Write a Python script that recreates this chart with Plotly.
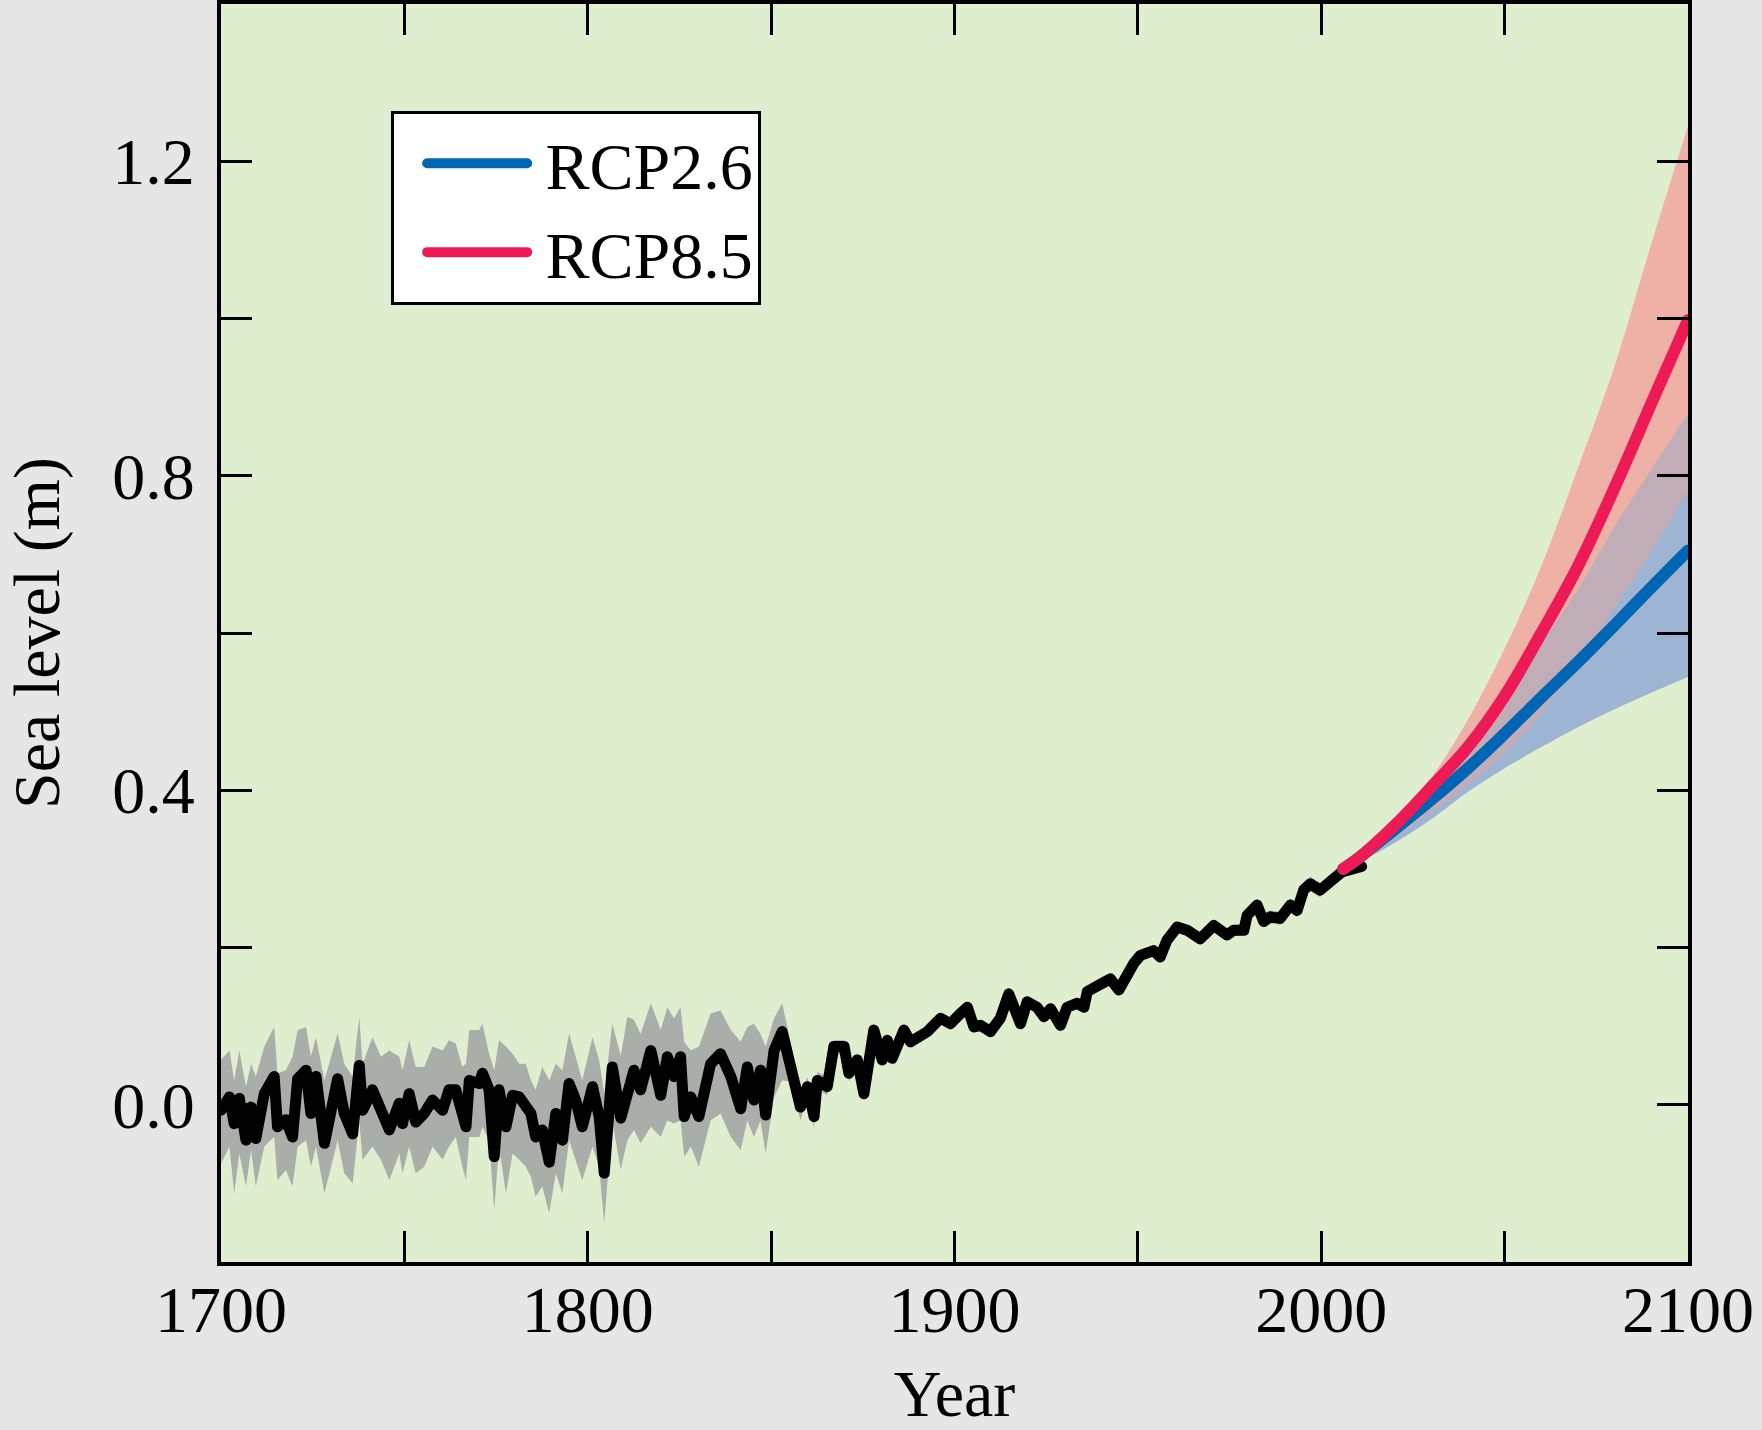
import numpy as np
import plotly.graph_objects as go

# ---------------- historical reconstruction ----------------
hist_year = [
    1700.0, 1702.3, 1703.6, 1705.0, 1706.8, 1708.2, 1709.5, 1711.8, 1714.5, 1715.4,
    1717.7, 1719.5, 1720.9, 1723.2, 1724.5, 1725.9, 1728.2, 1731.8, 1733.6, 1735.9,
    1737.7, 1738.6, 1741.3, 1743.6, 1745.9, 1748.6, 1749.5, 1751.3, 1753.1, 1755.4,
    1757.7, 1760.4, 1762.2, 1764.0, 1765.8, 1766.8, 1767.7, 1770.4, 1771.3, 1773.1,
    1774.5, 1775.8, 1777.7, 1779.5, 1781.3, 1783.1, 1784.5, 1785.8, 1787.6, 1789.5,
    1791.3, 1793.1, 1794.9, 1796.7, 1798.5, 1801.3, 1803.1, 1804.5, 1806.7,
    1809.0, 1810.8, 1812.6, 1814.4, 1817.2, 1819.9, 1821.7, 1823.5, 1825.3, 1826.3,
    1828.1, 1830.3, 1833.5, 1836.2, 1839.0, 1841.7, 1843.5, 1845.3, 1847.1, 1848.5,
    1850.8, 1853.0, 1855.3, 1858.0, 1859.9, 1861.7, 1862.6, 1865.3, 1867.1, 1869.9,
    1871.2, 1873.5, 1875.3, 1878.0,
    1880.3, 1881.7, 1883.0, 1886.2, 1888.0, 1889.8, 1892.6, 1896.2, 1898.9, 1901.6,
    1903.5, 1905.3, 1907.1, 1909.8, 1912.5, 1914.8, 1916.2, 1918.0, 1919.8, 1922.5,
    1924.4, 1926.2, 1928.9, 1930.7, 1933.4, 1935.3, 1936.2, 1938.9, 1942.5, 1944.8,
    1947.1, 1948.9, 1950.7, 1954.3, 1956.1, 1957.9, 1960.7, 1963.4, 1967.0, 1970.7,
    1974.3, 1976.1, 1978.9, 1979.8, 1982.5, 1984.3, 1986.1, 1988.8, 1991.6, 1993.4,
    1995.2, 1997.0, 1999.7, 2001.6, 2004.3, 2005.6, 2008.5, 2011.0,
]
hist_level = [
    -0.007, 0.010, -0.024, 0.008, -0.045, -0.003, -0.043, 0.014, 0.036, -0.028,
    -0.019, -0.041, 0.033, 0.044, -0.011, 0.036, -0.049, 0.033, -0.011, -0.037,
    0.050, -0.007, 0.019, -0.003, -0.032, 0.002, -0.024, 0.014, -0.022, -0.011,
    0.006, -0.007, 0.019, 0.019, -0.007, -0.028, 0.031, 0.027, 0.040, 0.019,
    -0.066, 0.019, -0.028, 0.012, 0.010, -0.003, -0.011, -0.041, -0.032, -0.073,
    -0.011, -0.045, 0.027, 0.006, -0.028, 0.023, -0.015, -0.087, 0.048,
    -0.017, 0.014, 0.044, 0.019, 0.069, 0.012, 0.061, 0.036, 0.061, -0.015,
    0.010, -0.015, 0.052, 0.065, 0.036, -0.005, 0.048, 0.006, 0.044, -0.013,
    0.069, 0.093, 0.052, -0.003, 0.023, -0.015, 0.031, 0.023, 0.074, 0.074,
    0.040, 0.057, 0.014, 0.095,
    0.057, 0.082, 0.059, 0.095, 0.080, 0.086, 0.093, 0.110, 0.103, 0.116,
    0.124, 0.099, 0.101, 0.093, 0.110, 0.141, 0.120, 0.103, 0.131, 0.124,
    0.112, 0.122, 0.101, 0.124, 0.129, 0.124, 0.144, 0.152, 0.160, 0.146,
    0.169, 0.180, 0.190, 0.196, 0.188, 0.209, 0.226, 0.222, 0.211, 0.228,
    0.216, 0.222, 0.222, 0.241, 0.254, 0.233, 0.239, 0.237, 0.254, 0.247,
    0.273, 0.281, 0.273, 0.281, 0.292, 0.296, 0.300, 0.303,
]
hist_hi = [
    0.057, 0.069, 0.031, 0.069, 0.023, 0.052, 0.036, 0.074, 0.099, 0.040,
    0.044, 0.061, 0.095, 0.099, 0.061, 0.086, 0.031, 0.091, 0.052, 0.036,
    0.112, 0.052, 0.086, 0.061, 0.069, 0.061, 0.044, 0.082, 0.048, 0.048,
    0.074, 0.069, 0.082, 0.078, 0.048, 0.052, 0.095, 0.095, 0.103, 0.065,
    0.044, 0.082, 0.074, 0.065, 0.052, 0.052, 0.031, 0.019, 0.048, 0.031,
    0.052, 0.044, 0.091, 0.061, 0.031, 0.086, 0.057, 0.014, 0.103,
    0.062, 0.112, 0.108, 0.090, 0.129, 0.095, 0.124, 0.110, 0.124, 0.080,
    0.069, 0.074, 0.116, 0.120, 0.095, 0.080, 0.099, 0.103, 0.090, 0.074,
    0.110, 0.129, 0.080, 0.012, 0.035, -0.002, 0.042, 0.035, 0.082, 0.082,
    0.048, 0.066, 0.022, 0.102,
    0.064, 0.089, 0.066, 0.102, 0.087, 0.093, 0.100, 0.117, 0.110, 0.123,
    0.131, 0.106, 0.108, 0.100, 0.117, 0.148, 0.127, 0.110, 0.138, 0.131,
    0.119, 0.129, 0.108, 0.131, 0.136, 0.131, 0.151, 0.159, 0.167, 0.153,
    0.176, 0.187, 0.197, 0.203, 0.195, 0.216, 0.233, 0.229, 0.218, 0.235,
    0.223, 0.229, 0.229, 0.248, 0.262, 0.241, 0.247, 0.245, 0.262, 0.256,
    0.282, 0.290, 0.282, 0.289, 0.299, 0.302, 0.306, 0.309,
]
hist_lo = [
    -0.075, -0.053, -0.113, -0.062, -0.104, -0.058, -0.104, -0.053, -0.041, -0.096,
    -0.083, -0.104, -0.053, -0.045, -0.079, -0.053, -0.113, -0.045, -0.087, -0.100,
    -0.020, -0.070, -0.053, -0.070, -0.096, -0.062, -0.087, -0.053, -0.087, -0.079,
    -0.053, -0.070, -0.053, -0.041, -0.079, -0.096, -0.041, -0.041, -0.028, -0.045,
    -0.134, -0.053, -0.113, -0.062, -0.070, -0.079, -0.092, -0.117, -0.104, -0.138,
    -0.087, -0.113, -0.045, -0.070, -0.096, -0.053, -0.079, -0.151, -0.020,
    -0.083, -0.045, -0.032, -0.049, -0.028, -0.041, -0.020, -0.024, -0.020, -0.066,
    -0.053, -0.079, -0.020, -0.011, -0.041, -0.058, -0.020, -0.041, -0.020, -0.062,
    0.010, 0.031, 0.030, -0.020, 0.008, -0.030, 0.020, 0.012, 0.064, 0.064,
    0.030, 0.048, 0.006, 0.088,
    0.050, 0.075, 0.052, 0.088, 0.073, 0.079, 0.086, 0.103, 0.096, 0.109,
    0.117, 0.092, 0.094, 0.086, 0.103, 0.134, 0.113, 0.096, 0.124, 0.117,
    0.105, 0.115, 0.094, 0.117, 0.122, 0.117, 0.137, 0.145, 0.153, 0.139,
    0.162, 0.173, 0.183, 0.189, 0.181, 0.202, 0.219, 0.215, 0.204, 0.221,
    0.209, 0.215, 0.215, 0.234, 0.246, 0.225, 0.231, 0.229, 0.246, 0.238,
    0.264, 0.272, 0.264, 0.273, 0.285, 0.290, 0.294, 0.297,
]

# ---------------- projections ----------------
proj_year = [2006, 2010, 2020, 2030, 2040, 2050, 2060, 2070, 2080, 2090, 2100]
rcp26_mid = [0.300, 0.313, 0.350, 0.388, 0.428, 0.472, 0.518, 0.563, 0.610, 0.658, 0.705]
rcp26_lo = [0.300, 0.308, 0.333, 0.363, 0.398, 0.428, 0.455, 0.480, 0.503, 0.524, 0.544]
rcp26_hi = [0.300, 0.317, 0.360, 0.410, 0.468, 0.528, 0.588, 0.655, 0.735, 0.808, 0.879]
rcp85_mid = [0.300, 0.313, 0.355, 0.404, 0.455, 0.520, 0.600, 0.685, 0.785, 0.892, 0.998]
rcp85_lo = [0.300, 0.308, 0.340, 0.372, 0.407, 0.447, 0.498, 0.560, 0.632, 0.703, 0.782]
rcp85_hi = [0.300, 0.318, 0.362, 0.416, 0.490, 0.580, 0.685, 0.810, 0.940, 1.095, 1.245]

x_tickvals = [1700, 1750, 1800, 1850, 1900, 1950, 2000, 2050, 2100]
x_ticktext = ["1700", "", "1800", "", "1900", "", "2000", "", "2100"]
y_tickvals = [-0.2, 0.0, 0.2, 0.4, 0.6, 0.8, 1.0, 1.2, 1.4]
y_ticktext = ["", "0.0", "", "0.4", "", "0.8", "", "1.2", ""]

# colours
GRAY_BAND = "#A9AEA8"
PINK = "#EFB1A6"
LIGHT_BLUE = "#9DB4D2"
PURPLE = "#C0ADB8"
BLUE = "#0066B3"
RED = "#EE1A55"
PLOT_BG = "#E0EED0"
PAPER_BG = "#E6E6E6"
FONT = "Liberation Serif"

overlap_lo = np.maximum(rcp85_lo, rcp26_lo)
overlap_hi = np.minimum(rcp85_hi, rcp26_hi)

fig = go.Figure()

def band(x, lo, hi, color, shape="linear"):
    fig.add_trace(go.Scatter(x=x, y=lo, mode="lines", line=dict(width=0, shape=shape),
                             showlegend=False, hoverinfo="skip"))
    fig.add_trace(go.Scatter(x=x, y=hi, mode="lines", line=dict(width=0, shape=shape),
                             fill="tonexty", fillcolor=color, showlegend=False,
                             hoverinfo="skip"))

band(hist_year, hist_lo, hist_hi, GRAY_BAND)
fig.add_trace(go.Scatter(x=hist_year, y=hist_level, mode="lines",
                         line=dict(color="black", width=11), showlegend=False))

band(proj_year, rcp85_lo, rcp85_hi, PINK, "spline")
band(proj_year, rcp26_lo, rcp26_hi, LIGHT_BLUE, "spline")
band(proj_year, overlap_lo, overlap_hi, PURPLE, "spline")

fig.add_trace(go.Scatter(x=proj_year, y=rcp26_mid, mode="lines", name="\u2009RCP2.6",
                         line=dict(color=BLUE, width=12, shape="spline")))
fig.add_trace(go.Scatter(x=proj_year, y=rcp85_mid, mode="lines", name="\u2009RCP8.5",
                         line=dict(color=RED, width=12, shape="spline")))

axis_common = dict(
    showline=True, linecolor="black", linewidth=4, mirror="allticks",
    ticks="inside", ticklen=31, tickwidth=3, tickcolor="black",
    showgrid=False, zeroline=False, automargin=False,
    tickfont=dict(family=FONT, size=66, color="black"),
)

fig.update_xaxes(range=[1700, 2100], tickmode="array", tickvals=x_tickvals,
                 ticktext=x_ticktext, ticklabelstandoff=-13,
                 title=dict(text="Year", font=dict(family=FONT, size=66, color="black"),
                            standoff=41),
                 **axis_common)
fig.update_yaxes(range=[-0.2, 1.4], tickmode="array", tickvals=y_tickvals,
                 ticktext=y_ticktext, ticklabelstandoff=9,
                 title=dict(text="Sea level (m)", font=dict(family=FONT, size=66, color="black"),
                            standoff=34),
                 **axis_common)

fig.update_layout(
    width=1762, height=1430,
    margin=dict(l=221, r=74, t=4, b=168),
    paper_bgcolor=PAPER_BG, plot_bgcolor=PLOT_BG,
    font=dict(family=FONT, size=66, color="black"),
    legend=dict(x=0.116, y=0.915, xanchor="left", yanchor="top",
                bgcolor="white", bordercolor="black", borderwidth=3,
                font=dict(family=FONT, size=66, color="black"),
                itemwidth=100, indentation=28, traceorder="normal"),
    showlegend=True,
)

post = """
document.documentElement.style.margin='0';
document.body.style.margin='0';
document.body.style.padding='0';
document.body.style.background='#E6E6E6';
var paths = document.querySelectorAll('.scatterlayer path.js-line, .legend path.js-line');
paths.forEach(function(p){ p.style.strokeLinejoin='round'; p.style.strokeLinecap='round'; });
"""
fig.write_html("out.html", post_script=post, config={"displayModeBar": False})
